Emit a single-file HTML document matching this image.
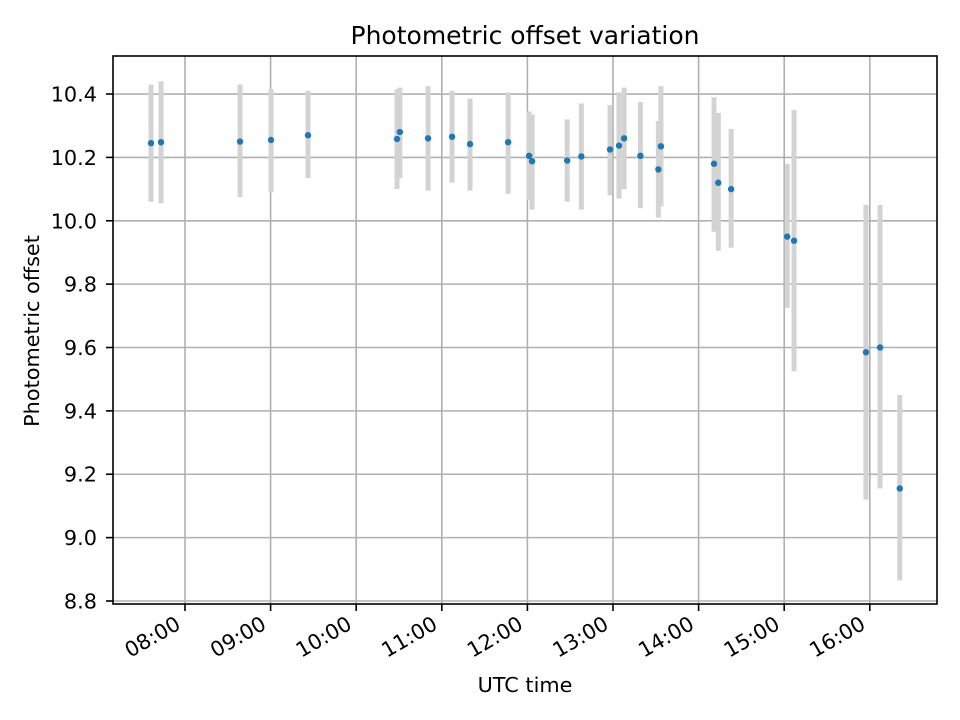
<!DOCTYPE html>
<html><head><meta charset="utf-8"><style>body{margin:0;background:#fff}svg{display:block;font-family:"DejaVu Sans","Liberation Sans",sans-serif}</style></head>
<body>
<svg id="chart" width="960" height="720">
<rect x="0" y="0" width="960" height="720" fill="#fff"/>
<g id="grid"></g><g id="bars"></g><g id="pts"></g><g id="axes"></g>
<text x="525" y="44" font-size="25" text-anchor="middle">Photometric offset variation</text>
<text x="525" y="692" font-size="20.8" text-anchor="middle">UTC time</text>
<text transform="translate(39,331) rotate(-90)" font-size="20.8" text-anchor="middle">Photometric offset</text>
</svg>
<script>
const times=[7.603,7.72,8.643,9.005,9.437,10.477,10.51,10.84,11.12,11.33,11.775,12.02,12.055,12.465,12.63,12.965,13.07,13.13,13.32,13.53,13.56,14.18,14.23,14.38,15.035,15.115,15.955,16.12,16.35];
const values=[10.245,10.248,10.25,10.255,10.27,10.258,10.28,10.26,10.265,10.242,10.248,10.205,10.188,10.19,10.203,10.225,10.237,10.26,10.205,10.162,10.235,10.18,10.12,10.1,9.95,9.937,9.585,9.6,9.155];
const lows=[10.06,10.055,10.075,10.09,10.135,10.1,10.135,10.095,10.12,10.095,10.085,10.065,10.035,10.06,10.035,10.08,10.07,10.1,10.04,10.01,10.045,9.965,9.905,9.915,9.725,9.525,9.12,9.155,8.865];
const highs=[10.43,10.44,10.43,10.415,10.41,10.415,10.42,10.425,10.41,10.385,10.405,10.345,10.335,10.32,10.37,10.365,10.405,10.42,10.375,10.315,10.425,10.39,10.34,10.29,10.18,10.35,10.05,10.05,9.45];
const yTicks=[8.8,9.0,9.2,9.4,9.6,9.8,10.0,10.2,10.4];
const xTicks=[8,9,10,11,12,13,14,15,16];
const xTickLabels=["08:00","09:00","10:00","11:00","12:00","13:00","14:00","15:00","16:00"];
const L=113,R=937,T=56,B=604,xmin=7.159,xmax=16.785,ymin=8.7905,ymax=10.52;
const X=v=>L+(v-xmin)/(xmax-xmin)*(R-L);
const Y=v=>B-(v-ymin)/(ymax-ymin)*(B-T);
const NS="http://www.w3.org/2000/svg";
function mk(tag,attrs,parent,txt){const e=document.createElementNS(NS,tag);for(const k in attrs)e.setAttribute(k,attrs[k]);if(txt!==undefined)e.textContent=txt;document.getElementById(parent).appendChild(e);return e;}
yTicks.forEach((t,i)=>{const y=Y(t);
 const g=mk('line',{x1:L,x2:R,y1:y,y2:y,stroke:'#b0b0b0','stroke-width':1.6},'grid');
 
 
 const tk=mk('line',{x1:L-7,x2:L,y1:y,y2:y,stroke:'#000','stroke-width':1.6},'axes');
 
 
 const tl=mk('text',{x:L-16,y:y+7.5,'font-size':20.8,'text-anchor':'end'},'axes',t.toFixed(1));
 
 
});
xTicks.forEach((t,i)=>{const x=X(t);
 const g=mk('line',{x1:x,x2:x,y1:T,y2:B,stroke:'#b0b0b0','stroke-width':1.6},'grid');
 
 
 const tk=mk('line',{x1:x,x2:x,y1:B,y2:B+7,stroke:'#000','stroke-width':1.6},'axes');
 
 
 const tl=mk('text',{transform:`translate(${x-3},${B+24}) rotate(-30)`,'font-size':20.8,'text-anchor':'end'},'axes',xTickLabels[i]);
 
 
});
times.forEach((t,i)=>{const x=X(t);
 const b=mk('line',{x1:x,x2:x,y1:Y(highs[i]),y2:Y(lows[i]),stroke:'#d3d3d3','stroke-width':5},'bars');
 
 
 const p=mk('circle',{cx:x,cy:Y(values[i]),r:3.2,fill:'#1f77b4'},'pts');
 
 
});
const f=mk('rect',{x:L,y:T,width:R-L,height:B-T,fill:'none',stroke:'#000','stroke-width':1.6},'axes');


</script>
</body></html>
